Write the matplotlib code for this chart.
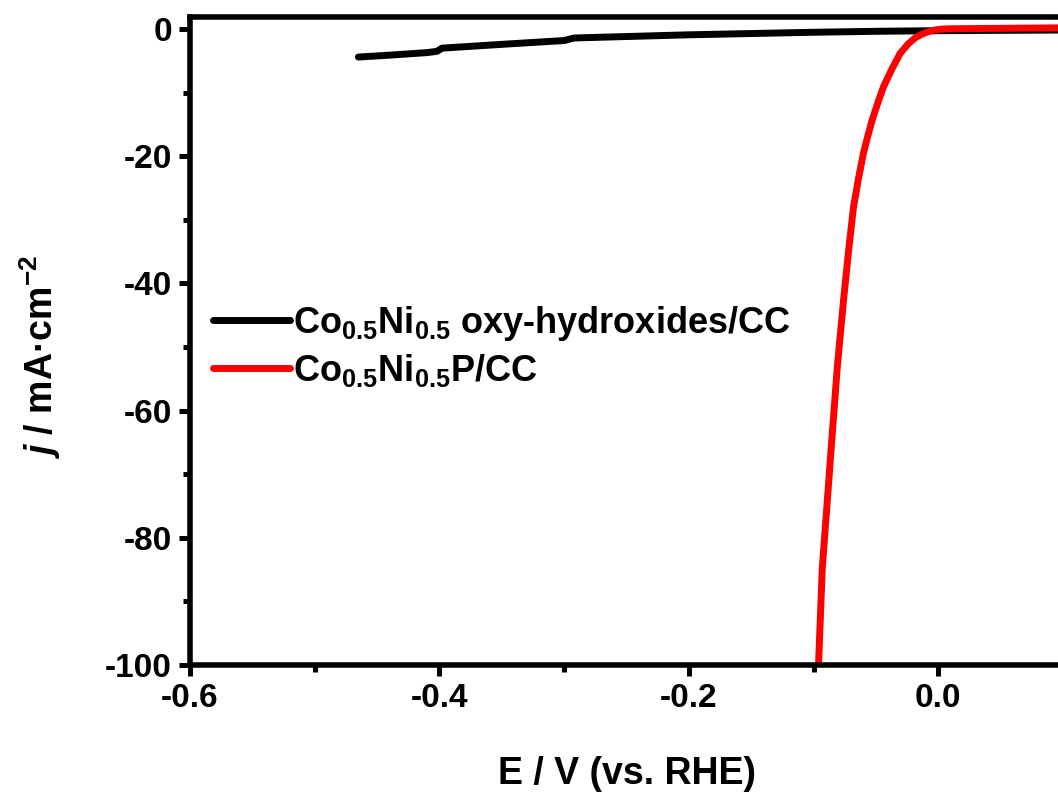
import matplotlib
matplotlib.use("Agg")
import matplotlib.pyplot as plt
from matplotlib.ticker import MultipleLocator

plt.rcParams['font.family'] = ['Liberation Sans', 'DejaVu Sans']
plt.rcParams['font.weight'] = 'bold'
plt.rcParams['mathtext.fontset'] = 'custom'
plt.rcParams['mathtext.rm'] = 'Liberation Sans:bold'
plt.rcParams['mathtext.bf'] = 'Liberation Sans:bold'
plt.rcParams['mathtext.it'] = 'Liberation Sans:bold:italic'
plt.rcParams['mathtext.default'] = 'bf'

# ── Data ─────────────────────────────────────────────────────────────────────
e_oxy = [-0.465, -0.44, -0.41, -0.402, -0.398, -0.35, -0.30, -0.292, -0.20,
         -0.10, -0.05, 0.0, 0.05, 0.10]
j_oxy = [-4.4, -4.1, -3.7, -3.5, -3.0, -2.4, -1.8, -1.4, -0.9,
         -0.5, -0.35, -0.25, -0.2, -0.15]

e_p = [-0.096, -0.093, -0.089, -0.085, -0.081, -0.076, -0.072, -0.068, -0.064,
       -0.060, -0.0565, -0.053, -0.0485, -0.044, -0.037, -0.0305, -0.024,
       -0.018, -0.012, -0.007, -0.003, 0.002, 0.008, 0.05, 0.10]
j_p = [-99.8, -84.7, -74.2, -63.6, -53.2, -42.7, -35.0, -28.0, -23.5,
       -19.5, -16.8, -14.3, -11.6, -9.1, -6.2, -3.8, -2.3,
       -1.3, -0.7, -0.35, -0.15, -0.02, 0.05, 0.12, 0.2]

labels = [r'$Co_{0.5}Ni_{0.5}$ oxy-hydroxides/CC', r'$Co_{0.5}Ni_{0.5}$P/CC']

fig = plt.figure(figsize=(10.58, 7.99), dpi=100)
ax = fig.add_axes([190 / 1058, 134 / 799, 873 / 1058, 648 / 799])

ax.plot(e_oxy, j_oxy, color='black', lw=5, solid_capstyle='round',
        solid_joinstyle='round', label=labels[0])
ax.plot(e_p, j_p, color='#ff0000', lw=5, solid_capstyle='round',
        solid_joinstyle='round', label=labels[1])

ax.set_xlim(-0.6, 0.1)
ax.set_ylim(-100, 1.9)
ax.xaxis.set_minor_locator(MultipleLocator(0.1))
ax.yaxis.set_minor_locator(MultipleLocator(10))
ax.set_xticks([-0.6, -0.4, -0.2, 0.0])
ax.set_xticklabels(['-0.6', '-0.4', '-0.2', '0.0'])
ax.set_yticks([0, -20, -40, -60, -80, -100])
ax.set_yticklabels(['0', '-20', '-40', '-60', '-80', '-100'])

for s in ax.spines.values():
    s.set_linewidth(4)
ax.tick_params(which='major', direction='out', length=8, width=3.6, labelsize=24, pad=5)
ax.tick_params(which='minor', direction='out', length=5, width=3.6)
ax.tick_params(top=False, right=False, which='both')

ax.set_xlabel('E / V (vs. RHE)', fontsize=27, fontweight='bold', labelpad=30)
ax.set_ylabel(r'$\mathit{j}$ / mA·cm$^{-2}$', fontsize=27, fontweight='bold')
ax.yaxis.set_label_coords(-0.145, 0.475)

ax.legend(loc='center left', bbox_to_anchor=(0.026, 0.492), frameon=False,
          fontsize=26, handlelength=2.15, handletextpad=0.08, labelspacing=0.25,
          borderaxespad=0, borderpad=0)

fig.savefig('out.png', dpi=100)
